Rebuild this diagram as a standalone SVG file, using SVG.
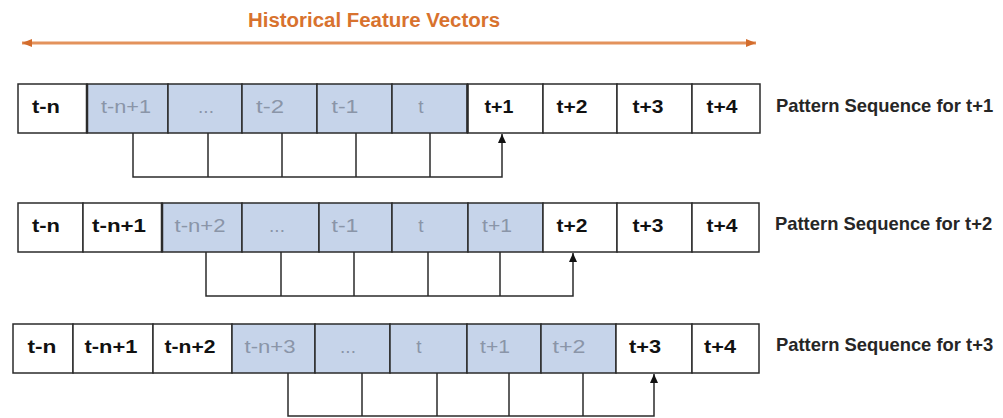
<svg xmlns="http://www.w3.org/2000/svg" width="1003" height="418" viewBox="0 0 1003 418">
<defs>
<style>
.cell{fill:#ffffff;stroke:#2b2b2b;stroke-width:1.5}
.cell.hl{fill:#c6d4ea}
.edge{stroke:#2b2b2b;stroke-width:2.5}
.tb{font-family:"Liberation Sans",Arial,sans-serif;font-size:19px;font-weight:bold;fill:#111;text-anchor:middle}
.tg{font-family:"Liberation Sans",Arial,sans-serif;font-size:19px;font-weight:normal;fill:#8a95a8;text-anchor:middle}
.lbl{font-family:"Liberation Sans",Arial,sans-serif;font-size:18.4px;font-weight:bold;fill:#262626}
.title{font-family:"Liberation Sans",Arial,sans-serif;font-size:20px;font-weight:bold;fill:#d8722e}
.conn{fill:none;stroke:#2b2b2b;stroke-width:1.5}
.harrow{fill:none;stroke:#e3925c;stroke-width:3}
</style>
<marker id="ah" markerUnits="userSpaceOnUse" markerWidth="9" markerHeight="9" refX="9" refY="4.5" orient="auto">
<path d="M0,0.5 L9,4.5 L0,8.5 z" fill="#111"/>
</marker>
<marker id="oh" markerUnits="userSpaceOnUse" markerWidth="11" markerHeight="9" refX="10" refY="4.5" orient="auto-start-reverse">
<path d="M0,0.5 L10,4.5 L0,8.5 z" fill="#d36c2c"/>
</marker>
</defs>
<rect width="1003" height="418" fill="#ffffff"/>

<g id="title">
<text class="title" x="248" y="27" textLength="252" lengthAdjust="spacingAndGlyphs">Historical Feature Vectors</text>
</g>

<g id="connectors">
<line class="harrow" x1="22" y1="43" x2="756" y2="43" marker-start="url(#oh)" marker-end="url(#oh)"/>
<!-- row 1 -->
<path class="conn" d="M133,133 V177 H502 V134" marker-end="url(#ah)"/>
<path class="conn" d="M208,133 V177 M282,133 V177 M356,133 V177 M430,133 V177"/>
<!-- row 2 -->
<path class="conn" d="M206,252 V296 H573 V253" marker-end="url(#ah)"/>
<path class="conn" d="M281,252 V296 M354,252 V296 M428,252 V296 M500,252 V296"/>
<!-- row 3 -->
<path class="conn" d="M288,373 V416 H654 V374" marker-end="url(#ah)"/>
<path class="conn" d="M362,373 V416 M437,373 V416 M509,373 V416 M583,373 V416"/>
</g>

<g id="row1">
<g id="r1-c0"><rect class="cell" x="18" y="84" width="69" height="49"/><text class="tb" x="46" y="113" textLength="28" lengthAdjust="spacingAndGlyphs">t-n</text></g>
<g id="r1-c1"><rect class="cell hl" x="87" y="84" width="81" height="49"/><text class="tg" x="126" y="113" textLength="50" lengthAdjust="spacingAndGlyphs">t-n+1</text></g>
<g id="r1-c2"><rect class="cell hl" x="168" y="84" width="74" height="49"/><text class="tg" x="206" y="113">...</text></g>
<g id="r1-c3"><rect class="cell hl" x="242" y="84" width="75" height="49"/><text class="tg" x="270" y="113" textLength="28" lengthAdjust="spacingAndGlyphs">t-2</text></g>
<g id="r1-c4"><rect class="cell hl" x="317" y="84" width="75" height="49"/><text class="tg" x="345" y="113" textLength="27" lengthAdjust="spacingAndGlyphs">t-1</text></g>
<g id="r1-c5"><rect class="cell hl" x="392" y="84" width="75.5" height="49"/><text class="tg" x="421" y="113">t</text></g>
<g id="r1-c6"><rect class="cell" x="467.5" y="84" width="75.5" height="49"/><text class="tb" x="499" y="113" textLength="29" lengthAdjust="spacingAndGlyphs">t+1</text></g>
<g id="r1-c7"><rect class="cell" x="543" y="84" width="74" height="49"/><text class="tb" x="572" y="113" textLength="31" lengthAdjust="spacingAndGlyphs">t+2</text></g>
<g id="r1-c8"><rect class="cell" x="617" y="84" width="75" height="49"/><text class="tb" x="648" y="113" textLength="31" lengthAdjust="spacingAndGlyphs">t+3</text></g>
<g id="r1-c9"><rect class="cell" x="692" y="84" width="68" height="49"/><text class="tb" x="722" y="113" textLength="31" lengthAdjust="spacingAndGlyphs">t+4</text></g>
<line class="edge" x1="87" y1="84" x2="87" y2="133"/>
<line class="edge" x1="467.5" y1="84" x2="467.5" y2="133"/>
<text class="lbl" x="776" y="112">Pattern Sequence for t+1</text>
</g>

<g id="row2">
<g id="r2-c0"><rect class="cell" x="18" y="203" width="65" height="49"/><text class="tb" x="46" y="232" textLength="28" lengthAdjust="spacingAndGlyphs">t-n</text></g>
<g id="r2-c1"><rect class="cell" x="83" y="203" width="79" height="49"/><text class="tb" x="119" y="232" textLength="54" lengthAdjust="spacingAndGlyphs">t-n+1</text></g>
<g id="r2-c2"><rect class="cell hl" x="162" y="203" width="80" height="49"/><text class="tg" x="200" y="232" textLength="51" lengthAdjust="spacingAndGlyphs">t-n+2</text></g>
<g id="r2-c3"><rect class="cell hl" x="242" y="203" width="77" height="49"/><text class="tg" x="277" y="232">...</text></g>
<g id="r2-c4"><rect class="cell hl" x="319" y="203" width="73" height="49"/><text class="tg" x="345" y="232" textLength="27" lengthAdjust="spacingAndGlyphs">t-1</text></g>
<g id="r2-c5"><rect class="cell hl" x="392" y="203" width="76" height="49"/><text class="tg" x="421" y="232">t</text></g>
<g id="r2-c6"><rect class="cell hl" x="468" y="203" width="75" height="49"/><text class="tg" x="497" y="232" textLength="30" lengthAdjust="spacingAndGlyphs">t+1</text></g>
<g id="r2-c7"><rect class="cell" x="543" y="203" width="74" height="49"/><text class="tb" x="572" y="232" textLength="31" lengthAdjust="spacingAndGlyphs">t+2</text></g>
<g id="r2-c8"><rect class="cell" x="617" y="203" width="75" height="49"/><text class="tb" x="648" y="232" textLength="31" lengthAdjust="spacingAndGlyphs">t+3</text></g>
<g id="r2-c9"><rect class="cell" x="692" y="203" width="67" height="49"/><text class="tb" x="722" y="232" textLength="31" lengthAdjust="spacingAndGlyphs">t+4</text></g>
<line class="edge" x1="162" y1="203" x2="162" y2="252"/>
<text class="lbl" x="775" y="230">Pattern Sequence for t+2</text>
</g>

<g id="row3">
<g id="r3-c0"><rect class="cell" x="13" y="324" width="60" height="49"/><text class="tb" x="42" y="353" textLength="29" lengthAdjust="spacingAndGlyphs">t-n</text></g>
<g id="r3-c1"><rect class="cell" x="73" y="324" width="80" height="49"/><text class="tb" x="111" y="353" textLength="53" lengthAdjust="spacingAndGlyphs">t-n+1</text></g>
<g id="r3-c2"><rect class="cell" x="153" y="324" width="79" height="49"/><text class="tb" x="190" y="353" textLength="51" lengthAdjust="spacingAndGlyphs">t-n+2</text></g>
<g id="r3-c3"><rect class="cell hl" x="232" y="324" width="83" height="49"/><text class="tg" x="270" y="353" textLength="51" lengthAdjust="spacingAndGlyphs">t-n+3</text></g>
<g id="r3-c4"><rect class="cell hl" x="315" y="324" width="75" height="49"/><text class="tg" x="348" y="353">...</text></g>
<g id="r3-c5"><rect class="cell hl" x="390" y="324" width="77" height="49"/><text class="tg" x="419" y="353">t</text></g>
<g id="r3-c6"><rect class="cell hl" x="467" y="324" width="74" height="49"/><text class="tg" x="495" y="353" textLength="30" lengthAdjust="spacingAndGlyphs">t+1</text></g>
<g id="r3-c7"><rect class="cell hl" x="541" y="324" width="75" height="49"/><text class="tg" x="569" y="353" textLength="33" lengthAdjust="spacingAndGlyphs">t+2</text></g>
<g id="r3-c8"><rect class="cell" x="616" y="324" width="76" height="49"/><text class="tb" x="645" y="353" textLength="32" lengthAdjust="spacingAndGlyphs">t+3</text></g>
<g id="r3-c9"><rect class="cell" x="692" y="324" width="67" height="49"/><text class="tb" x="720" y="353" textLength="32" lengthAdjust="spacingAndGlyphs">t+4</text></g>
<text class="lbl" x="776" y="351">Pattern Sequence for t+3</text>
</g>
</svg>
